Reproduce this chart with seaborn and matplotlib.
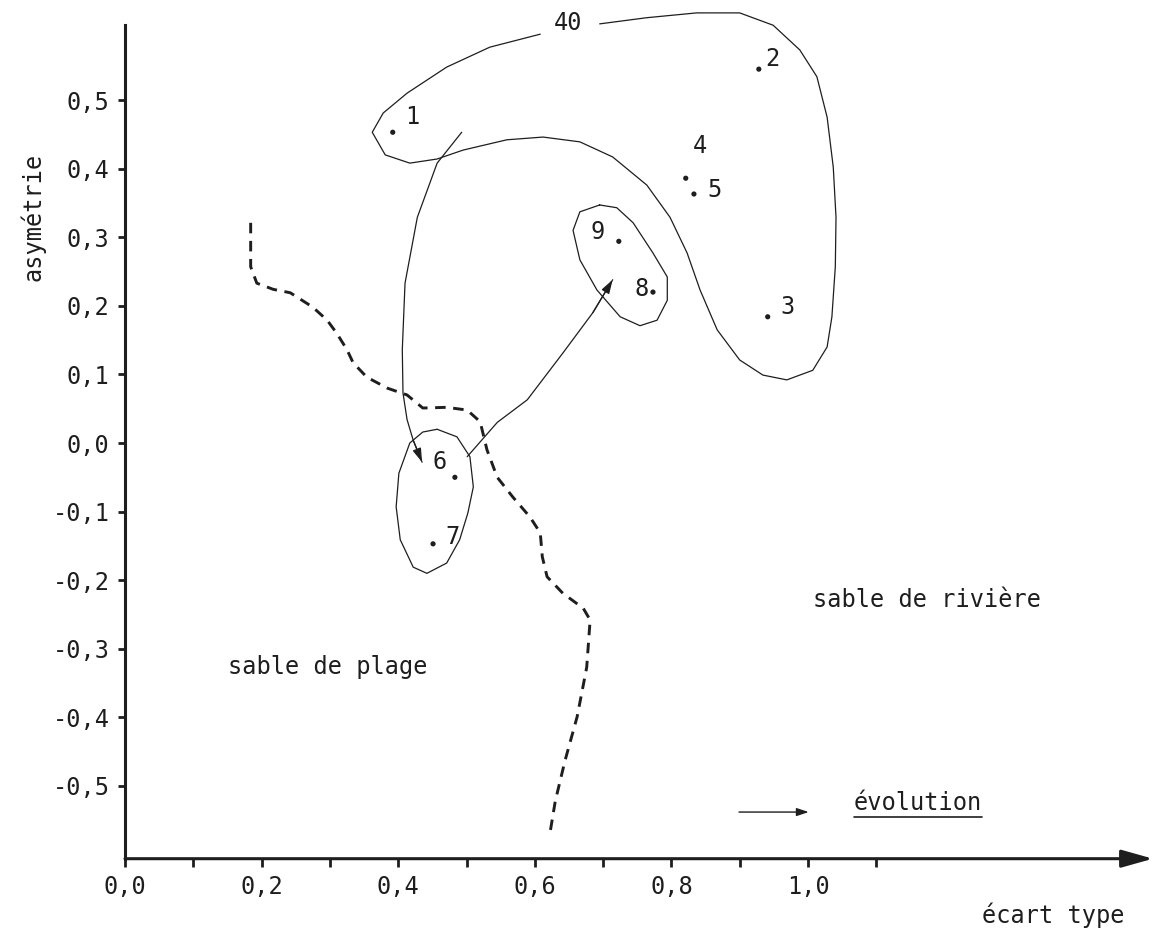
import numpy as np
import pandas as pd
import matplotlib
matplotlib.use("Agg")
import matplotlib.pyplot as plt
from matplotlib.lines import Line2D
import seaborn as sns

# ---------------- data ----------------
sample_ids = ["1", "2", "3", "4", "5", "6", "7", "8", "9"]
sample_sd = [0.392, 0.928, 0.941, 0.821, 0.833, 0.483, 0.451, 0.773, 0.723]
sample_skew = [0.453, 0.545, 0.184, 0.386, 0.363, -0.050, -0.147, 0.220, 0.294]

# large envelope (labelled "40"), drawn open at the label
env40_x = [0.695, 0.764, 0.837, 0.900, 0.949, 0.988, 1.013, 1.028, 1.037, 1.041,
           1.040, 1.035, 1.028, 1.007, 0.969, 0.934, 0.900, 0.867, 0.842, 0.823,
           0.798, 0.764, 0.714, 0.666, 0.612, 0.559, 0.495, 0.457, 0.417, 0.381,
           0.362, 0.378, 0.413, 0.471, 0.534, 0.608]
env40_y = [0.611, 0.620, 0.627, 0.627, 0.609, 0.573, 0.534, 0.475, 0.402, 0.329,
           0.257, 0.184, 0.140, 0.106, 0.092, 0.099, 0.121, 0.165, 0.223, 0.277,
           0.329, 0.376, 0.417, 0.439, 0.446, 0.442, 0.427, 0.414, 0.408, 0.420,
           0.453, 0.481, 0.510, 0.548, 0.577, 0.596]

# envelope around samples 8 and 9
env89_x = [0.695, 0.720, 0.744, 0.773, 0.794, 0.794, 0.779, 0.754, 0.725, 0.691,
           0.666, 0.656, 0.666, 0.695]
env89_y = [0.347, 0.343, 0.321, 0.277, 0.242, 0.208, 0.179, 0.171, 0.184, 0.223,
           0.267, 0.310, 0.337, 0.347]

# envelope around samples 6 and 7
env67_x = [0.457, 0.486, 0.505, 0.510, 0.502, 0.490, 0.471, 0.442, 0.422, 0.403,
           0.397, 0.401, 0.417, 0.436, 0.457]
env67_y = [0.020, 0.009, -0.020, -0.064, -0.102, -0.141, -0.175, -0.190, -0.181, -0.141,
           -0.093, -0.044, 0.000, 0.016, 0.020]

# evolution path 1 -> 6
path16_x = [0.493, 0.457, 0.428, 0.410, 0.406, 0.407, 0.413, 0.422, 0.435]
path16_y = [0.453, 0.408, 0.329, 0.233, 0.136, 0.073, 0.034, 0.004, -0.028]

# evolution path 6 -> 8/9
path68_x = [0.501, 0.545, 0.589, 0.641, 0.685, 0.714]
path68_y = [-0.020, 0.030, 0.063, 0.131, 0.190, 0.238]

# dashed boundary beach / river sand
bound_x = [0.184, 0.184, 0.193, 0.217, 0.242, 0.275, 0.296, 0.310, 0.325, 0.334,
           0.354, 0.384, 0.413, 0.436, 0.471, 0.501, 0.520, 0.530, 0.545, 0.568,
           0.593, 0.608, 0.611, 0.618, 0.641, 0.671, 0.681, 0.676, 0.662, 0.644,
           0.630, 0.622]
bound_y = [0.321, 0.257, 0.233, 0.224, 0.219, 0.198, 0.179, 0.160, 0.136, 0.117,
           0.096, 0.080, 0.070, 0.051, 0.052, 0.048, 0.031, -0.010, -0.050, -0.079,
           -0.108, -0.131, -0.166, -0.195, -0.219, -0.241, -0.258, -0.327, -0.399, -0.464,
           -0.522, -0.570]

x_ticks = [0.0, 0.1, 0.2, 0.3, 0.4, 0.5, 0.6, 0.7, 0.8, 0.9, 1.0, 1.1]
x_tick_labels = ["0,0", "", "0,2", "", "0,4", "", "0,6", "", "0,8", "", "1,0", ""]
y_ticks = [-0.5, -0.4, -0.3, -0.2, -0.1, 0.0, 0.1, 0.2, 0.3, 0.4, 0.5]
y_tick_labels = ["-0,5", "-0,4", "-0,3", "-0,2", "-0,1", "0,0", "0,1", "0,2", "0,3", "0,4", "0,5"]

# ---------------- style ----------------
INK = "#1e1e1e"
FS = 17
label_offsets = {"1": (14, 11), "2": (10, 7), "3": (14, 7), "4": (10, 23), "5": (15, 3),
                 "6": (-11, 11), "7": (14, 5), "8": (-8, 2), "9": (-15, 7)}

sns.set_theme(style="white")
plt.rcParams["font.family"] = ["DejaVu Sans Mono", "DejaVu Sans"]
plt.rcParams["text.color"] = INK
plt.rcParams["xtick.color"] = INK
plt.rcParams["ytick.color"] = INK

W, H = 1173, 934
fig = plt.figure(figsize=(W / 100, H / 100), dpi=100)
fig.patch.set_facecolor("white")
ax = fig.add_axes([125 / W, 75.3 / H, 1045 / W, 858.7 / H])
ax.set_facecolor("white")
ax.set_xlim(0, 1045 / 683)
ax.set_ylim(-0.606, 0.6458)

# curves
def curve(xs, ys, **kw):
    df = pd.DataFrame({"x": xs, "y": ys})
    sns.lineplot(data=df, x="x", y="y", sort=False, estimator=None, ax=ax,
                 color=INK, legend=False, **kw)

curve(env40_x, env40_y, lw=0.9)
curve(env89_x, env89_y, lw=0.9)
curve(env67_x, env67_y, lw=0.9)
curve(path16_x, path16_y, lw=0.9)
curve(path68_x, path68_y, lw=0.9)
curve(bound_x, bound_y, lw=2.1, linestyle=(0, (3.6, 2.6)))

# arrow heads on the evolution paths
for px, py in [(path16_x, path16_y), (path68_x, path68_y)]:
    ax.annotate("", xy=(px[-1], py[-1]), xytext=(px[-2], py[-2]),
                arrowprops=dict(arrowstyle="-|>,head_length=0.7,head_width=0.22",
                                color=INK, lw=0.9, shrinkA=0, shrinkB=0))

# sample points
pts = pd.DataFrame({"id": sample_ids, "sd": sample_sd, "skew": sample_skew})
sns.scatterplot(data=pts, x="sd", y="skew", ax=ax, s=14, color=INK,
                edgecolor="none", legend=False, zorder=5)
for sid, sx, sy in zip(sample_ids, sample_sd, sample_skew):
    ax.annotate(sid, xy=(sx, sy), xytext=label_offsets[sid], textcoords="offset points",
                ha="center", va="center", fontsize=FS, color=INK)

# envelope label
ax.text(0.649, 0.612, "40", ha="center", va="center", fontsize=FS, color=INK)

# region labels
ax.text(0.151, -0.327, "sable de plage", ha="left", va="center", fontsize=FS, color=INK)
ax.text(1.007, -0.229, "sable de rivière", ha="left", va="center", fontsize=FS, color=INK)

# evolution legend
ax.annotate("", xy=(1.001, -0.538), xytext=(0.899, -0.538),
            arrowprops=dict(arrowstyle="-|>,head_length=0.6,head_width=0.2",
                            color=INK, lw=1.0, shrinkA=0, shrinkB=0))
evo = ax.text(1.067, -0.525, "évolution", ha="left", va="center", fontsize=FS, color=INK)

# axes
sns.despine(ax=ax, top=True, right=True, left=False, bottom=True)
ax.spines["left"].set_bounds(-0.606, 0.609)
ax.spines["left"].set_linewidth(2.2)
ax.spines["left"].set_color(INK)
ax.annotate("", xy=(1.505, -0.606), xytext=(0.0, -0.606),
            arrowprops=dict(arrowstyle="-|>,head_length=1.6,head_width=0.45",
                            color=INK, lw=2.2, shrinkA=0, shrinkB=0),
            annotation_clip=False)

ax.set_xticks(x_ticks)
ax.set_xticklabels(x_tick_labels, fontsize=FS)
ax.set_yticks(y_ticks)
ax.set_yticklabels(y_tick_labels, fontsize=FS)
ax.tick_params(axis="x", direction="out", length=6, width=2, pad=6, bottom=True)
ax.tick_params(axis="y", direction="out", length=5, width=2, pad=6, left=True)
ax.set_xlabel("")
ax.set_ylabel("")
ax.grid(False)

fig.text(33 / W, 1 - 217 / H, "asymétrie", rotation=90, ha="center", va="center",
         fontsize=FS, color=INK)
fig.text(982 / W, 1 - 915 / H, "écart type", ha="left", va="center", fontsize=FS, color=INK)

# underline for "évolution"
fig.canvas.draw()
bb = evo.get_window_extent()
yline = bb.y0 - 2
fig.add_artist(Line2D([bb.x0 / W, bb.x1 / W], [yline / H, yline / H],
                      transform=fig.transFigure, color=INK, lw=1.2))

fig.savefig("out.png", dpi=100, facecolor="white")
